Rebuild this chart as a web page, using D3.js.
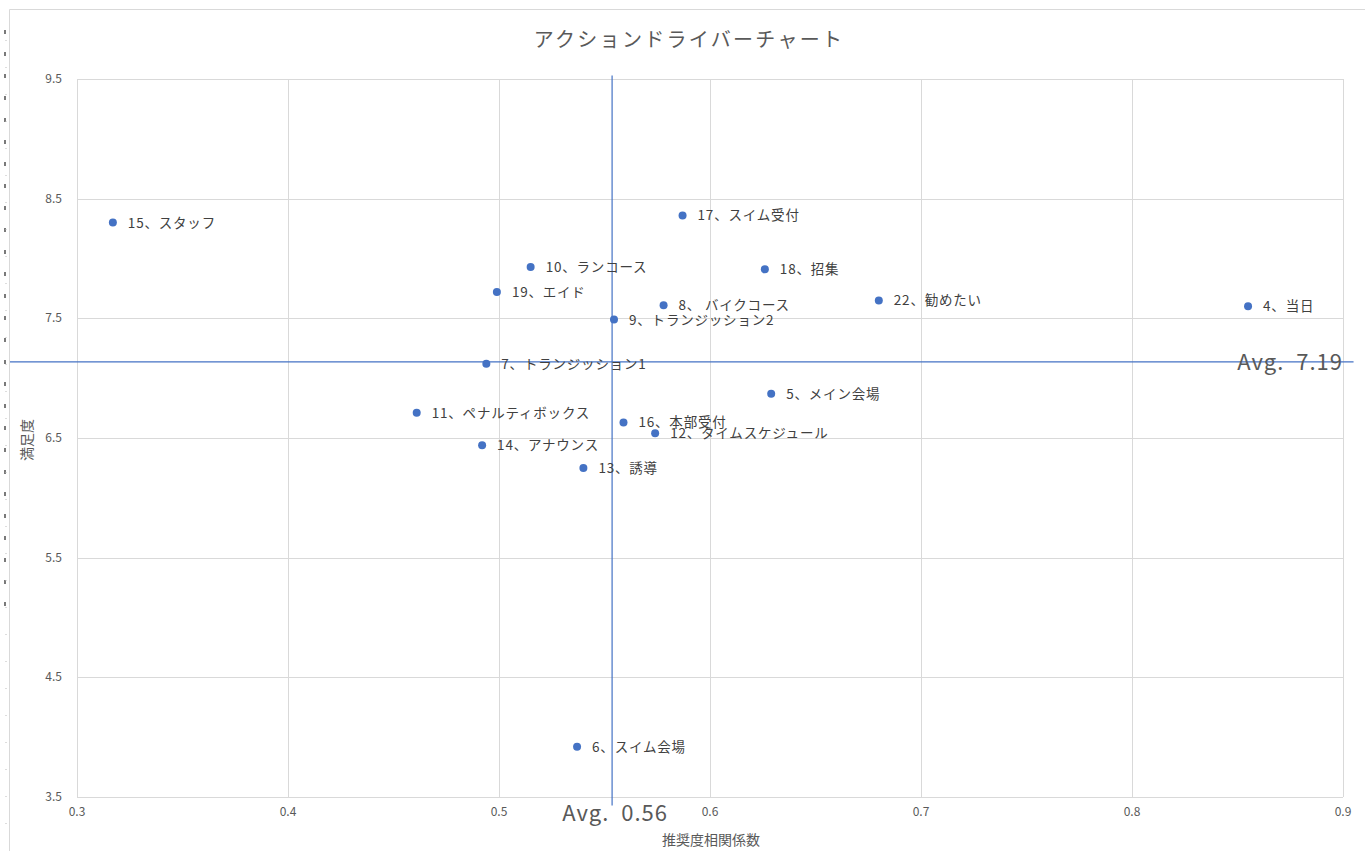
<!DOCTYPE html>
<html><head><meta charset="utf-8">
<script src="https://cdn.jsdelivr.net/npm/d3@7"></script>
<style>
html,body{margin:0;padding:0;background:#fff;}
svg{display:block;font-family:"Noto Sans CJK JP","Noto Sans",sans-serif;}
</style></head>
<body>
<svg id="chart" width="1365" height="851"></svg>
<script>
const title = "アクションドライバーチャート";
const xTitle = "推奨度相関係数";
const yTitle = "満足度";
const labels = ["15、スタッフ","17、スイム受付","10、ランコース","18、招集","19、エイド","8、 バイクコース","22、勧めたい","4、当日","9、トランジッション2","7、トランジッション1","5、メイン会場","11、ペナルティボックス","16、本部受付","12、タイムスケジュール","14、アナウンス","13、誘導","6、スイム会場"];
const xValues = [0.317,0.587,0.515,0.626,0.499,0.578,0.680,0.855,0.5545,0.494,0.629,0.461,0.559,0.574,0.492,0.540,0.537];
const yValues = [8.30,8.36,7.93,7.91,7.72,7.61,7.65,7.60,7.49,7.12,6.87,6.71,6.63,6.54,6.44,6.25,3.92];
const xTicks = [0.3,0.4,0.5,0.6,0.7,0.8,0.9];
const yTicks = [3.5,4.5,5.5,6.5,7.5,8.5,9.5];
const avgX = [0.5536];
const avgY = [7.136];
const avgXLabel = "Avg.  0.56";
const avgYLabel = "Avg.  7.19";

const svg = d3.select("#chart");
const L = 77, R = 1343, T = 79, B = 797;
const x = d3.scaleLinear().domain([0.3,0.9]).range([L,R]);
const y = d3.scaleLinear().domain([3.5,9.5]).range([B,T]);

// chart frame (spreadsheet edge)
svg.append("line").attr("x1",9.5).attr("x2",1365).attr("y1",9.5).attr("y2",9.5).attr("stroke","#d9d9d9");
svg.append("line").attr("x1",9.5).attr("x2",9.5).attr("y1",9.5).attr("y2",851).attr("stroke","#d9d9d9");
svg.append("line").attr("x1",5).attr("x2",5).attr("y1",30).attr("y2",610).attr("stroke","#222").attr("stroke-width",1.2).attr("stroke-dasharray","4,18");
svg.append("line").attr("x1",6).attr("x2",6).attr("y1",40).attr("y2",840).attr("stroke","#bbb").attr("stroke-width",1).attr("stroke-dasharray","1,26");

// gridlines
const g = svg.append("g");
g.selectAll(".vx").data(xTicks).join("line")
  .attr("x1",d=>Math.round(x(d))+0.5).attr("x2",d=>Math.round(x(d))+0.5)
  .attr("y1",T).attr("y2",B).attr("stroke","#d9d9d9").attr("stroke-width",1);
g.selectAll(".hy").data(yTicks).join("line")
  .attr("y1",d=>Math.round(y(d))+0.5).attr("y2",d=>Math.round(y(d))+0.5)
  .attr("x1",L).attr("x2",R).attr("stroke","#d9d9d9").attr("stroke-width",1);

// tick labels
svg.selectAll(".xt").data(xTicks).join("text")
  .attr("x",d=>x(d)).attr("y",816).attr("text-anchor","middle")
  .attr("font-size",12).attr("fill","#595959").text(d=>d3.format(".1f")(d));
svg.selectAll(".yt").data(yTicks).join("text")
  .attr("x",62).attr("y",d=>y(d)+4).attr("text-anchor","end")
  .attr("font-size",12).attr("fill","#595959").text(d=>d3.format(".1f")(d));

// titles
svg.append("text").attr("x",689).attr("y",47).attr("text-anchor","middle")
  .attr("font-size",20).attr("letter-spacing",2.3).attr("fill","#595959").text(title);
svg.append("text").attr("x",711).attr("y",845).attr("text-anchor","middle")
  .attr("font-size",14).attr("fill","#595959").text(xTitle);
svg.append("text").attr("transform","translate(32,440) rotate(-90)").attr("text-anchor","middle")
  .attr("font-size",14).attr("fill","#595959").text(yTitle);

// average lines
svg.selectAll(".avx").data(avgX).join("line")
  .attr("x1",d=>x(d)).attr("x2",d=>x(d)).attr("y1",y(9.53)).attr("y2",y(3.43))
  .attr("stroke","#4472c4").attr("stroke-width",1.2);
svg.selectAll(".avy").data(avgY).join("line")
  .attr("y1",d=>y(d)).attr("y2",d=>y(d)).attr("x1",10).attr("x2",x(0.905))
  .attr("stroke","#4472c4").attr("stroke-width",1.2);
svg.append("text").attr("x",x(avgX[0])+3).attr("y",821).attr("text-anchor","middle")
  .attr("font-size",22).attr("letter-spacing",1).attr("fill","#595959").attr("xml:space","preserve").text(avgXLabel);
svg.append("text").attr("x",R).attr("y",y(avgY[0])+8).attr("text-anchor","end")
  .attr("font-size",22).attr("letter-spacing",1).attr("fill","#595959").attr("xml:space","preserve").text(avgYLabel);

// points
const pts = labels.map((l,i)=>({l, x:xValues[i], y:yValues[i]}));
svg.selectAll(".pt").data(pts).join("circle")
  .attr("cx",d=>x(d.x)).attr("cy",d=>y(d.y)).attr("r",4).attr("fill","#4472c4");
svg.selectAll(".lb").data(pts).join("text")
  .attr("x",d=>x(d.x)+15).attr("y",d=>y(d.y)+5)
  .attr("font-size",13.5).attr("letter-spacing",0.8).attr("fill","#404040").attr("xml:space","preserve").text(d=>d.l);
</script>
</body></html>
